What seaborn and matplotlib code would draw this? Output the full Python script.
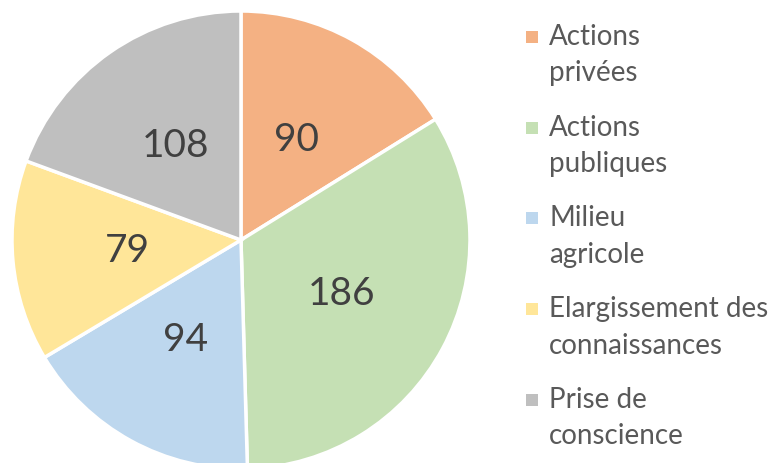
import matplotlib.pyplot as plt
import seaborn as sns
from matplotlib.patches import Rectangle

categories = ["Actions\nprivées", "Actions\npubliques", "Milieu\nagricole",
              "Elargissement des\nconnaissances", "Prise de\nconscience"]
values = [90, 186, 94, 79, 108]
colors = ["#F4B183", "#C5E0B4", "#BDD7EE", "#FFE699", "#BFBFBF"]

sns.set_theme(style="white")
plt.rcParams['font.family'] = ['Lato', 'DejaVu Sans']

fig = plt.figure(figsize=(7.71, 4.63), dpi=100)
ax = fig.add_axes([0.01556, -0.01296, 0.594, 0.9892])

ax.pie(values, colors=colors, startangle=90, counterclock=False,
       autopct=lambda p: f"{round(p * sum(values) / 100):d}", pctdistance=0.5,
       wedgeprops=dict(edgecolor="white", linewidth=2.5),
       textprops=dict(fontsize=28, color="#404040"))
ax.set_xlim(-1, 1)
ax.set_ylim(-1, 1)
ax.set_aspect("equal")
ax.axis("off")

# legend drawn by hand so the marker sits on the first line
top = 1 - 24 / 463
step = 90.7 / 463
for i, (lab, c) in enumerate(zip(categories, colors)):
    y = top - i * step
    fig.patches.append(Rectangle((526 / 771, y - 19 / 463), 12 / 771, 12 / 463,
                                 facecolor=c, edgecolor="none", transform=fig.transFigure))
    fig.text(549 / 771, y, lab, fontsize=20, color="#595959", va="top", ha="left",
             linespacing=1.5)

plt.savefig("out.png", dpi=100)
